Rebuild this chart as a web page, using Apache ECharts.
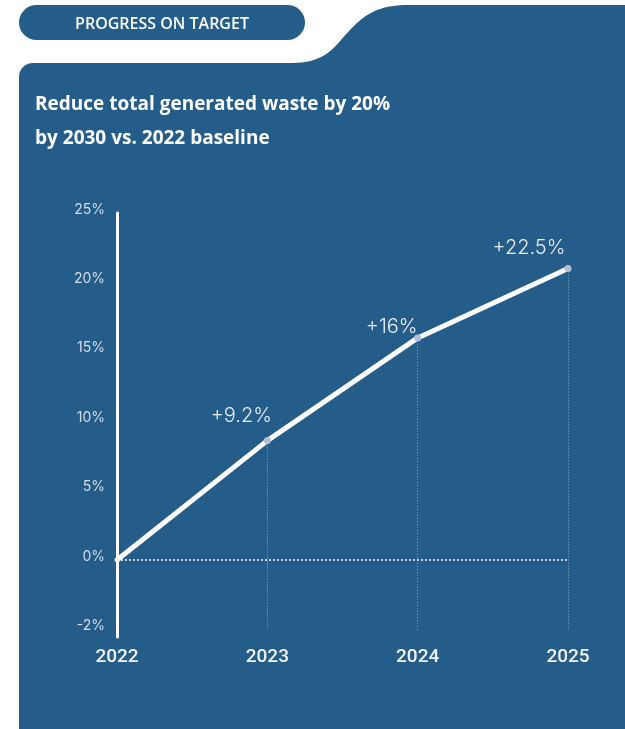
<!DOCTYPE html>
<html>
<head>
<meta charset="utf-8">
<script src="https://cdn.jsdelivr.net/npm/echarts@6/dist/echarts.min.js"></script>
<style>
  html, body { margin: 0; padding: 0; background: #ffffff; }
  #chart { width: 625px; height: 729px; }
</style>
</head>
<body>
<div id="chart"></div>
<script>
// data
const years = ['2022', '2023', '2024', '2025']
const wasteChange = [0, 8.6, 16.0, 21.0]
const pointLabels = ['', '+9.2%', '+16%', '+22.5%']
const yTickValues = [-5, 0, 5, 10, 15, 20, 25]
const yTickLabels = ['-2%', '0%', '5%', '10%', '15%', '20%', '25%']

// label nudges (centre of text relative to the point)
const labelOffsets = [[0, 0], [-26, -25], [-26, -11], [-39, -21]]

const cardBlue = '#245d8a'
const chart = echarts.init( document.getElementById( 'chart' ) )

// the s-shaped shoulder between card and top band
function cubic( p0, p1, p2, p3, n ) {
  const pts = []
  for ( let i = 0; i <= n; i++ ) {
    const t = i / n
    const u = 1 - t
    pts.push( [
      u * u * u * p0[0] + 3 * u * u * t * p1[0] + 3 * u * t * t * p2[0] + t * t * t * p3[0],
      u * u * u * p0[1] + 3 * u * u * t * p1[1] + 3 * u * t * t * p2[1] + t * t * t * p3[1]
    ] )
  }
  return pts
}
const shoulder = [
  ...cubic( [292, 63], [328, 63], [336, 44], [350, 30], 20 ),
  ...cubic( [350, 30], [364, 15], [378, 5], [408, 5], 20 ),
  [625, 5], [625, 80], [292, 80]
]

const lineData = wasteChange.map( ( v, i ) => ( {
  value : v,
  symbolSize : i === 0 ? 0 : 7,
  label : {
    show : i > 0,
    formatter : pointLabels[i],
    position : 'inside',
    offset : labelOffsets[i]
  }
} ) )

const dropLineStyle = { color : '#b4c4da', width : 1, type : [1, 2], opacity : 0.75 }
const dropLines = wasteChange.slice( 1 ).map( ( v, k ) => ( [
  { coord : [k + 1, v], lineStyle : dropLineStyle },
  { coord : [k + 1, -5] }
] ) )

chart.setOption( {
  backgroundColor : '#ffffff',
  animation : false,
  graphic : [
    {
      type : 'rect',
      shape : { x : 19, y : 63, width : 640, height : 700, r : [14, 0, 0, 0] },
      style : { fill : cardBlue },
      z : -10
    },
    {
      type : 'polygon',
      shape : { points : shoulder },
      style : { fill : cardBlue },
      z : -10
    },
    {
      type : 'rect',
      shape : { x : 19, y : 5, width : 286, height : 35, r : 17.5 },
      style : { fill : cardBlue },
      z : -10
    }
  ],
  title : [
    {
      text : 'Reduce total generated waste by 20%\nby 2030 vs. 2022 baseline',
      left : 35,
      top : 88,
      padding : 0,
      textStyle : {
        fontFamily : 'Open Sans',
        fontSize : 19,
        fontWeight : 700,
        color : '#ffffff',
        lineHeight : 34
      }
    },
    {
      text : 'PROGRESS ON TARGET',
      left : 162,
      top : 16,
      padding : 0,
      textAlign : 'center',
      textStyle : {
        fontFamily : 'Open Sans',
        fontSize : 16,
        fontWeight : 600,
        color : '#ffffff'
      }
    }
  ],
  grid : {
    left : 117,
    right : 57,
    top : 213,
    bottom : 92
  },
  xAxis : {
    type : 'category',
    data : years,
    boundaryGap : false,
    axisLine : { show : false },
    axisTick : { show : false },
    splitLine : { show : false },
    axisLabel : {
      margin : 11,
      color : '#f2f4f7',
      fontFamily : 'Roboto',
      fontSize : 19,
      fontWeight : 500
    }
  },
  yAxis : {
    type : 'value',
    min : -5.55,
    max : 25,
    axisLine : {
      show : true,
      lineStyle : { color : '#ffffff', width : 3 }
    },
    axisTick : { show : false },
    splitLine : { show : false },
    axisLabel : {
      customValues : yTickValues,
      margin : 12,
      color : '#d4dce8',
      fontFamily : 'Inter',
      fontSize : 14,
      verticalAlign : 'bottom',
      lineHeight : 7,
      formatter : ( v ) => {
        const idx = yTickValues.indexOf( v )
        return idx >= 0 ? yTickLabels[idx] : ''
      }
    }
  },
  series : [
    {
      type : 'line',
      data : lineData,
      symbol : 'circle',
      showSymbol : true,
      lineStyle : { color : '#ffffff', width : 5, cap : 'round', join : 'round' },
      itemStyle : { color : '#b6bdd1' },
      label : {
        color : '#e8edf4',
        fontFamily : 'Inter',
        fontWeight : 300,
        fontSize : 20
      },
      z : 5,
      markLine : {
        silent : true,
        symbol : 'none',
        label : { show : false },
        data : [
          {
            yAxis : 0,
            lineStyle : { color : '#ffffff', width : 1.5, type : [2, 2], opacity : 0.95 }
          },
          ...dropLines
        ]
      }
    }
  ]
} )
</script>
</body>
</html>
